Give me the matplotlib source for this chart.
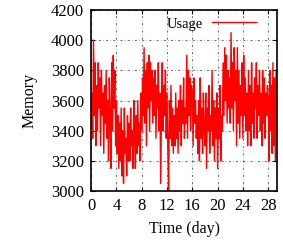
import numpy as np
import matplotlib
matplotlib.use("Agg")
import matplotlib.pyplot as plt

plt.rcParams['font.family'] = ['Liberation Serif', 'DejaVu Serif']

# memory usage, 8 samples per day
usage = [
    3450, 3650, 3350, 4000, 3500, 3850, 3300, 3700,
    3400, 3850, 3550, 3750, 3300, 3800, 3500, 3650,
    3250, 3700, 3450, 3800, 3350, 3600, 3200, 3750,
    3500, 3150, 3850, 3400, 3900, 3550, 3800, 3300,
    3600, 3250, 3500, 3150, 3450, 3200, 3550, 3100,
    3400, 3050, 3550, 3250, 3350, 3100, 3500, 3200,
    3450, 3200, 3550, 3300, 3400, 3150, 3600, 3350,
    3150, 3500, 3250, 3600, 3300, 3450, 3200, 3650,
    3400, 3750, 3500, 3950, 3450, 3800, 3300, 3850,
    3550, 3900, 3400, 3850, 3600, 3800, 3450, 3750,
    3500, 3800, 3350, 3700, 3550, 3850, 3400, 3650,
    3050, 3550, 3850, 3400, 3700, 3500, 3800, 3350,
    3650, 3300, 3000, 3600, 3350, 3700, 3300, 3550,
    3250, 3500, 3300, 3650, 3350, 3550, 3250, 3600,
    3400, 3700, 3300, 3600, 3450, 3750, 3350, 3550,
    3450, 3900, 3350, 3800, 3500, 3750, 3400, 3700,
    3650, 3300, 3750, 3450, 3600, 3350, 3500, 3250,
    3600, 3200, 3750, 3350, 3550, 3250, 3650, 3400,
    3300, 3650, 3150, 3550, 3400, 3700, 3250, 3500,
    3400, 3800, 3300, 3600, 3200, 3550, 3350, 3650,
    3150, 3550, 3350, 3700, 3200, 3500, 3400, 3850,
    3500, 3950, 3600, 3900, 3450, 3800, 3550, 3750,
    3450, 4050, 3550, 3850, 3400, 3950, 3600, 3800,
    3300, 3950, 3450, 3800, 3350, 3700, 3500, 3850,
    3350, 3900, 3500, 3750, 3400, 3650, 3300, 3800,
    3400, 3700, 3300, 3850, 3450, 3650, 3350, 3750,
    3550, 3850, 3350, 3700, 3500, 3800, 3400, 3650,
    3300, 3800, 3450, 3750, 3350, 3650, 3500, 3700,
    3600, 3200, 3800, 3400, 3700, 3250, 3850, 3300,
    3750, 3200, 3800,
]
days = np.arange(len(usage)) / 8.0

xticks = [0, 4, 8, 12, 16, 20, 24, 28]
yticks = [3000, 3200, 3400, 3600, 3800, 4000, 4200]

fig = plt.figure(figsize=(2.83, 2.44), dpi=100)
ax = fig.add_axes([0.322, 0.217, 0.657, 0.742])
ax.plot(days, usage, color='red', lw=1.0, label='Usage')

ax.set_xlim(0, 29.4)
ax.set_ylim(3000, 4200)
ax.set_xticks(xticks)
ax.set_yticks(yticks)
ax.tick_params(direction='in', top=True, right=True, labelsize=12, length=3,
               pad=5)
for s in ax.spines.values():
    s.set_linewidth(1.2)
ax.grid(True, color='#777777', ls=(0, (2, 2, 0.5, 2)), lw=0.8)
ax.set_xlabel('Time (day)', fontsize=11.5, labelpad=5)
ax.set_ylabel('Memory', fontsize=11.5, labelpad=10)
ax.legend(loc='upper right', frameon=False, fontsize=10.5, handlelength=3.0,
          handletextpad=0.6, markerfirst=False, borderaxespad=0.1,
          bbox_to_anchor=(0.925, 1.0))

fig.savefig('out.png', dpi=100)
